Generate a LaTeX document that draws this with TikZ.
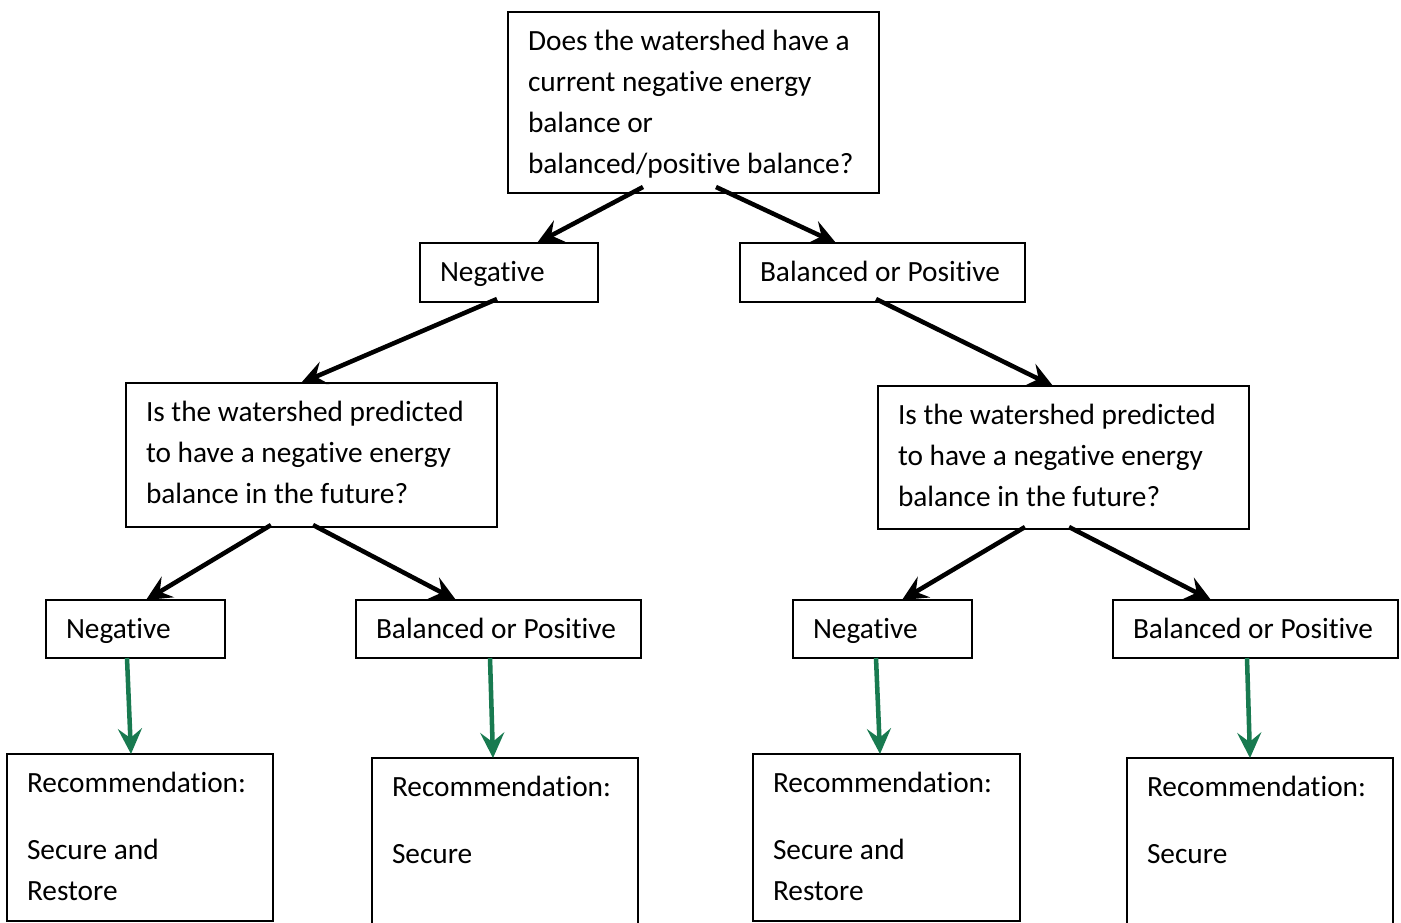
\documentclass[tikz,border=0pt]{standalone}
\usepackage{fontspec}
\setmainfont[Ligatures=NoCommon]{Carlito}
\usetikzlibrary{arrows.meta,calc}
\definecolor{recgreen}{RGB}{24,122,80}
\newlength{\pxu}\setlength{\pxu}{0.75pt}
\newcommand{\boxtext}[3]{\parbox[t][#2\pxu][t]{#1\pxu}{\rule{0pt}{21.5pt}#3}}

\begin{document}
\begin{tikzpicture}[x=0.75pt, y=-0.75pt,
    box/.style = {draw, line width=1.5pt, anchor=north west, inner xsep=15pt, inner ysep=7.5pt, outer sep=0pt, font=\fontsize{22pt}{30.75pt}\selectfont},
    arr/.style = {line width=3.4pt, -{Stealth[length=19pt, width=18pt, inset=7pt]}},
    garr/.style = {arr, recgreen}]

    \clip (0,0) rectangle (1401,922);

    % questions
    \node[box] (top) at (508,12) {\boxtext{331}{161}{Does the watershed have a\\current negative energy\\balance or\\balanced/positive balance?}};
    \node[box] (qL) at (126,383) {\boxtext{331}{124}{Is the watershed predicted\\to have a negative energy\\balance in the future?}};
    \node[box] (qR) at (878,386) {\boxtext{331}{123}{Is the watershed predicted\\to have a negative energy\\balance in the future?}};

    % answers
    \node[box] (neg1) at (420,243) {\boxtext{138}{39}{Negative}};
    \node[box] (bop1) at (740,243) {\boxtext{245}{39}{Balanced or Positive}};
    \node[box] (negL) at (46,600) {\boxtext{139}{38}{Negative}};
    \node[box] (bopL) at (356,600) {\boxtext{245}{38}{Balanced or Positive}};
    \node[box] (negR) at (793,600) {\boxtext{139}{38}{Negative}};
    \node[box] (bopR) at (1113,600) {\boxtext{245}{38}{Balanced or Positive}};

    % recommendations
    \node[box] (recA) at (7,754) {\boxtext{226}{147}{Recommendation:\\[19.5pt]Secure and\\Restore}};
    \node[box] (recB) at (372,758) {\boxtext{226}{162}{Recommendation:\\[19.5pt]Secure}};
    \node[box] (recC) at (753,754) {\boxtext{227}{147}{Recommendation:\\[19.5pt]Secure and\\Restore}};
    \node[box] (recD) at (1127,758) {\boxtext{226}{162}{Recommendation:\\[19.5pt]Secure}};

    % black arrows
    \draw[arr] ($(top.south)+(-50.5,-6)$) -- ($(neg1.north)+(28,0)$);
    \draw[arr] ($(top.south)+(22.5,-6)$) -- ($(bop1.north)+(-46.5,0)$);
    \draw[arr] ($(neg1.south)+(-12,-3)$) -- ($(qL.north)+(-10.5,0)$);
    \draw[arr] ($(bop1.south)+(-6.5,-3)$) -- ($(qR.north)+(-10.5,0)$);
    \draw[arr] ($(qL.south)+(-40.5,-2)$) -- ($(negL.north)+(10.5,0)$);
    \draw[arr] ($(qL.south)+(1.5,-2)$) -- ($(bopL.north)+(-42.5,0)$);
    \draw[arr] ($(qR.south)+(-38.5,-2)$) -- ($(negR.north)+(19.5,0)$);
    \draw[arr] ($(qR.south)+(5.5,-2)$) -- ($(bopR.north)+(-44.5,0)$);

    % green arrows
    \draw[garr] ($(negL.south)+(-8.5,0)$) -- ($(recA.north)+(-9,0)$);
    \draw[garr] ($(bopL.south)+(-8.5,0)$) -- ($(recB.north)+(-12,0)$);
    \draw[garr] ($(negR.south)+(-6.5,0)$) -- ($(recC.north)+(-6.5,0)$);
    \draw[garr] ($(bopR.south)+(-8.5,0)$) -- ($(recD.north)+(-10,0)$);

\end{tikzpicture}
\end{document}
